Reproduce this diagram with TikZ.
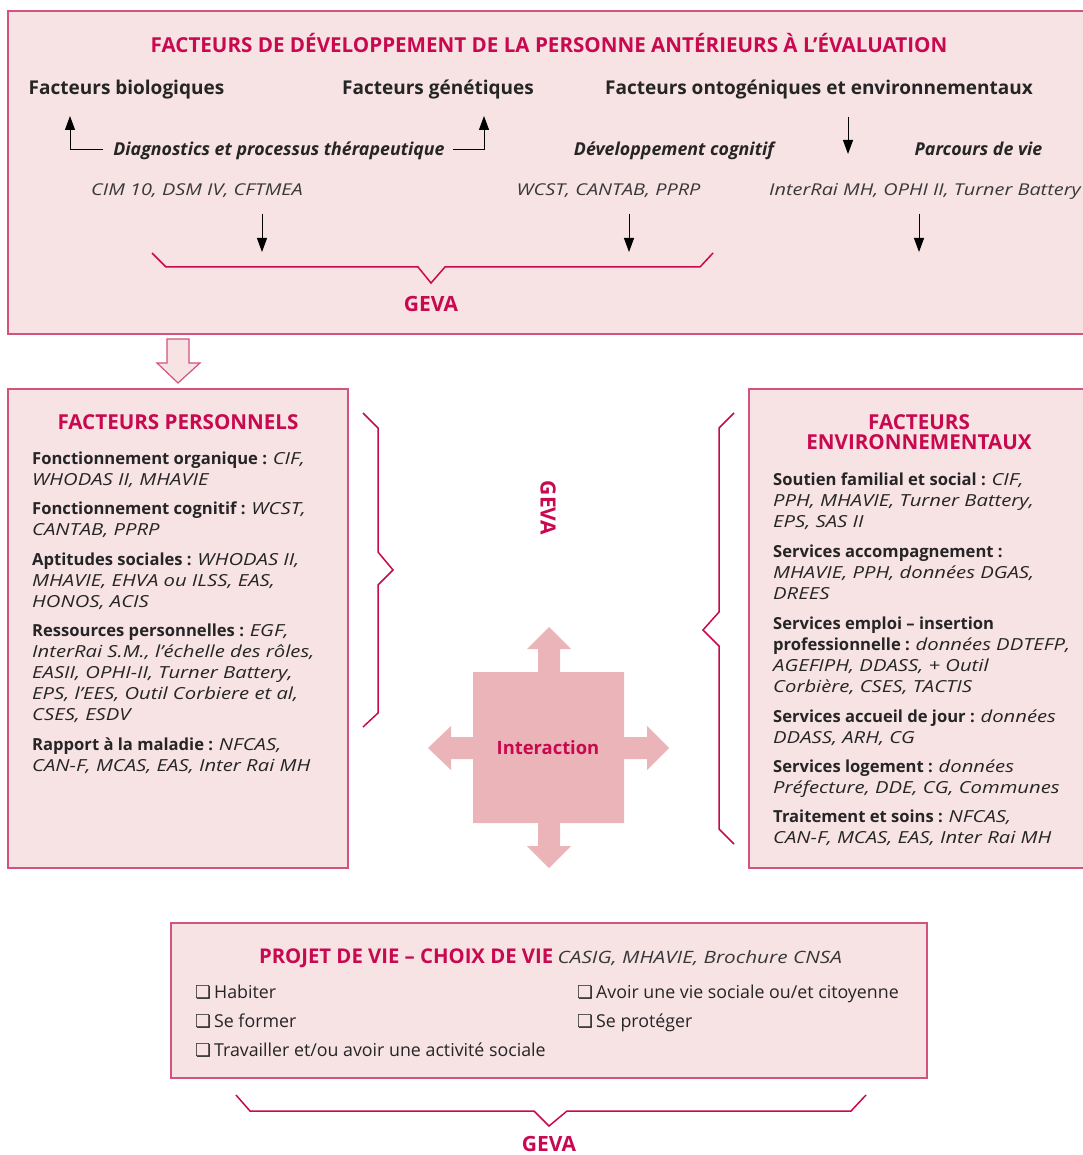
\documentclass[tikz,border=0pt]{standalone}
\usepackage{fontspec}
\setmainfont{Open Sans}[ItalicFeatures={FakeStretch=1.22}]
\newfontfamily\symfont{DejaVu Sans}
\usetikzlibrary{arrows.meta}
\definecolor{crim}{HTML}{C8084F}
\definecolor{boxfill}{HTML}{F7E2E4}
\definecolor{boxline}{HTML}{D2537D}
\definecolor{intfill}{HTML}{EAB4B8}
\definecolor{txt}{HTML}{252525}
\definecolor{reftxt}{HTML}{383838}
\newcommand\chk{{\symfont\char"274F}\,}
\tikzset{
  hdr/.style={font=\bfseries\fontsize{20.6}{20}\selectfont, text=crim, inner sep=0, align=center},
  facteur/.style={font=\bfseries\fontsize{19}{22}\selectfont, text=txt, anchor=base, inner sep=0},
  mid/.style={font=\bfseries\itshape\fontsize{17.8}{20}\selectfont, text=txt, anchor=base, inner sep=0},
  refs/.style={font=\itshape\fontsize{16.3}{20}\selectfont, text=reftxt, anchor=base, inner sep=0},
  body/.style={anchor=base west, inner sep=0, align=left, font=\fontsize{16.6}{21}\selectfont, text=txt},
  item/.style={anchor=base west, inner sep=0, font=\fontsize{17.8}{20}\selectfont, text=txt},
  geva/.style={font=\bfseries\fontsize{21}{21}\selectfont, text=crim, inner sep=0},
  arr/.style={-{Triangle[length=14pt,width=10pt]}, line width=1pt, draw=black},
  brace/.style={draw=crim, line width=1.5pt},
  box/.style={fill=boxfill, draw=boxline, line width=1.3pt},
}
\begin{document}
\begin{tikzpicture}[x=1pt,y=-1pt]
\useasboundingbox (0,0) rectangle (1082,1155);
% ---------------- top box ----------------
\draw[box] (8,11) rectangle (1100,334);
\node[hdr] (title) at (549,43) {FACTEURS DE DÉVELOPPEMENT DE LA PERSONNE ANTÉRIEURS À L’ÉVALUATION};
\node[facteur] (bio) at (126.5,94.5) {Facteurs biologiques};
\node[facteur] (gen) at (438,94.5) {Facteurs génétiques};
\node[facteur] (onto) at (819,94.5) {Facteurs ontogéniques et environnementaux};
\node[mid] (diag) at (279,155.5) {Diagnostics et processus thérapeutique};
\node[mid] (dev) at (674,155.5) {Développement cognitif};
\node[mid] (parc) at (978.5,155.5) {Parcours de vie};
\node[refs] (cim) at (197,195.5) {CIM 10, DSM IV, CFTMEA};
\node[refs] (wcst) at (608.5,195.5) {WCST, CANTAB, PPRP};
\node[refs] (irai) at (925,195.5) {InterRai MH, OPHI II, Turner Battery};
\node[geva] (geva1) at (431,304) {GEVA};
% arrows
\coordinate (bioTip) at (70,116);
\coordinate (genTip) at (484,116);
\draw[arr] ([xshift=-10pt]diag.west |- 0,150) -| (bioTip);
\draw[arr] ([xshift=8pt]diag.east |- 0,150) -| (genTip);
\coordinate (ontoA) at (848,117);
\coordinate (ontoB) at (848,154);
\draw[arr] (ontoA) -- (ontoB);
\coordinate (a1) at (262,214); \coordinate (b1) at (262,252);
\coordinate (a2) at (629,214); \coordinate (b2) at (629,252);
\coordinate (a3) at (919,214); \coordinate (b3) at (919,252);
\draw[arr] (a1) -- (b1);
\draw[arr] (a2) -- (b2);
\draw[arr] (a3) -- (b3);
\draw[brace] (152,253) -- (166,267) -- (418,267) -- (431,283) -- (445,267) -- (700,267) -- (713,253);
% hollow arrow
\draw[fill=boxfill, draw=boxline, line width=1.2pt]
  (167,339) -- (189,339) -- (189,363) -- (200,363) -- (178,383) -- (157,363) -- (167,363) -- cycle;
% ---------------- left box ----------------
\draw[box] (8,389) rectangle (348,868);
\node[hdr] (fp) at (178,422) {FACTEURS PERSONNELS};
\node[body] (p1) at (32,485.5) {\textbf{Fonctionnement organique :} \textit{CIF,}\\\textit{WHODAS II, MHAVIE}};
\node[body] (p2) at (32,535.5) {\textbf{Fonctionnement cognitif :} \textit{WCST,}\\\textit{CANTAB, PPRP}};
\node[body] (p3) at (32,607.5) {\textbf{Aptitudes sociales :} \textit{WHODAS II,}\\\textit{MHAVIE, EHVA ou ILSS, EAS,}\\\textit{HONOS, ACIS}};
\node[body] (p4) at (32,720.5) {\textbf{Ressources personnelles :} \textit{EGF,}\\\textit{InterRai S.M., l’échelle des rôles,}\\\textit{EASII, OPHI-II, Turner Battery,}\\\textit{EPS, l’EES, Outil Corbiere et al,}\\\textit{CSES, ESDV}};
\node[body] (p5) at (32,771.5) {\textbf{Rapport à la maladie :} \textit{NFCAS,}\\\textit{CAN-F, MCAS, EAS, Inter Rai MH}};
% left brace
\draw[brace] (363,413) -- (378,428) -- (378,552) -- (393,570) -- (378,585) -- (378,713) -- (363,727);
\node[geva, rotate=-90] (geva2) at (548,508) {GEVA};
% interaction
\fill[intfill] (473,672) -- (538,672) -- (538,649) -- (527,649) -- (549,627) -- (571,649) -- (560,649) -- (560,672)
  -- (624,672) -- (624,737) -- (647,737) -- (647,726) -- (669,748) -- (647,770) -- (647,759) -- (624,759)
  -- (624,823) -- (560,823) -- (560,846) -- (571,846) -- (549,868) -- (527,846) -- (538,846) -- (538,823)
  -- (473,823) -- (473,759) -- (451,759) -- (451,770) -- (428,748) -- (451,726) -- (451,737) -- (473,737) -- cycle;
\node[font=\bfseries\fontsize{18.4}{18}\selectfont, text=crim, inner sep=0] (inter) at (548,748) {Interaction};
% right brace
\draw[brace] (734,413) -- (719,428) -- (719,612) -- (703,630) -- (719,646) -- (719,829) -- (734,844);
% ---------------- right box ----------------
\draw[box] (749,389) rectangle (1100,868);
\node[hdr, anchor=base] (fe) at (919,449.5) {FACTEURS\\ENVIRONNEMENTAUX};
\node[body] (q1) at (773,527.5) {\textbf{Soutien familial et social :} \textit{CIF,}\\\textit{PPH, MHAVIE, Turner Battery,}\\\textit{EPS, SAS II}};
\node[body] (q2) at (773,599.5) {\textbf{Services accompagnement :}\\\textit{MHAVIE, PPH, données DGAS,}\\\textit{DREES}};
\node[body] (q3) at (773,692.5) {\textbf{Services emploi – insertion}\\\textbf{professionnelle :} \textit{données DDTEFP,}\\\textit{AGEFIPH, DDASS, + Outil}\\\textit{Corbière, CSES, TACTIS}};
\node[body] (q4) at (773,743.5) {\textbf{Services accueil de jour :} \textit{données}\\\textit{DDASS, ARH, CG}};
\node[body] (q5) at (773,793.5) {\textbf{Services logement :} \textit{données}\\\textit{Préfecture, DDE, CG, Communes}};
\node[body] (q6) at (773,843.5) {\textbf{Traitement et soins :} \textit{NFCAS,}\\\textit{CAN-F, MCAS, EAS, Inter Rai MH}};
% ---------------- bottom box ----------------
\draw[box] (171,923) rectangle (927,1078);
\node[anchor=base, inner sep=0, text=reftxt, font=\fontsize{17}{20}\selectfont] (pv) at (550.5,963.5)
  {\textcolor{crim}{\bfseries\fontsize{20.3}{20}\selectfont PROJET DE VIE – CHOIX DE VIE} \textit{CASIG, MHAVIE, Brochure CNSA}};
\node[item] (i1) at (195,998) {\chk Habiter};
\node[item] (i2) at (195,1027) {\chk Se former};
\node[item] (i3) at (195,1056) {\chk Travailler et/ou avoir une activité sociale};
\node[item] (i4) at (577,998) {\chk Avoir une vie sociale ou/et citoyenne};
\node[item] (i5) at (577,1027) {\chk Se protéger};
\draw[brace] (236,1095) -- (250,1111) -- (534,1111) -- (549,1126) -- (567,1111) -- (851,1111) -- (866,1095);
\node[geva] (geva3) at (549,1143.5) {GEVA};
\end{tikzpicture}
\end{document}
